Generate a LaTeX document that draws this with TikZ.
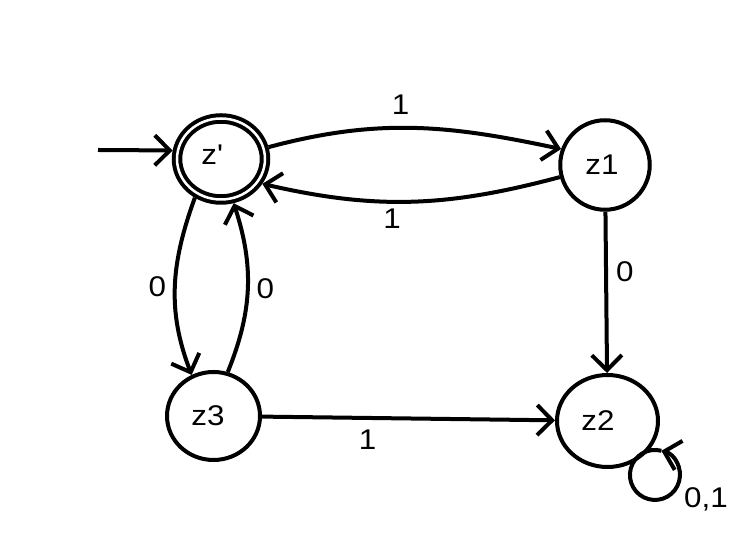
\documentclass[tikz,border=0pt]{standalone}
\usepackage{fontspec}
\setmainfont{Liberation Sans}[FakeStretch=1.1]
\usetikzlibrary{arrows.meta,shapes.geometric}
\newcommand{\padr}[1]{\hbox to #1{}}
\begin{document}
\begin{tikzpicture}[x=1pt,y=1pt,
  line width=4pt,
  state/.style={draw,ellipse,inner sep=0pt,font=\fontsize{28.5}{32}\selectfont},
  accept/.style={state,double,double distance=2.5pt,minimum width=88pt,minimum height=81pt,outer sep=5.25pt},
  arr/.style={-{Straight Barb[length=15pt,width=30pt]}},
  lbl/.style={font=\fontsize{28.5}{32}\selectfont,inner sep=0pt}]
\useasboundingbox (0,0) rectangle (756,548);
% states
\node[accept] (zp) at (221,389) {\raisebox{8pt}{z\textquotesingle}\padr{18pt}};
\node[state,minimum width=89.5pt,minimum height=89.5pt] (z1) at (605,383) {z1\padr{6pt}};
\node[state,minimum width=101pt,minimum height=92pt] (z2) at (607.5,127) {z2\padr{19pt}};
\node[state,minimum width=93pt,minimum height=88pt] (z3) at (213.5,132) {z3\padr{11pt}};
% initial arrow
\coordinate (init) at (98,398);
\draw[arr] (init) -- (zp.170);
% z' <-> z1
\draw[arr] (zp.14) to[out=15,in=168] node[lbl,pos=0.45,above=11pt] {1} (z1.160);
\draw[arr] (z1.195) to[out=195,in=-13] node[lbl,pos=0.57,below=5pt] {1} (zp.-31);
% z' <-> z3
\draw[arr] (zp.236) to[out=250,in=111] node[lbl,pos=0.5,left=7pt] {0} (z3.118);
\draw[arr] (z3.72) to[out=68,in=-72] node[lbl,pos=0.5,right=7pt] {0} (zp.-74);
% to z2
\draw[arr] (z1) -- node[lbl,pos=0.37,right=8pt] {0} (z2);
\draw[arr] (z3) -- node[lbl,pos=0.36,below=10pt] {1} (z2);
% loop on z2
\coordinate (lt) at (655,98);
\draw[arr] ([shift={(6.4pt,-0.8pt)}]lt) arc[start angle=75,end angle=435,radius=25pt];
\node[lbl] (l01) at (706,48.5) {0,1};
\end{tikzpicture}
\end{document}
